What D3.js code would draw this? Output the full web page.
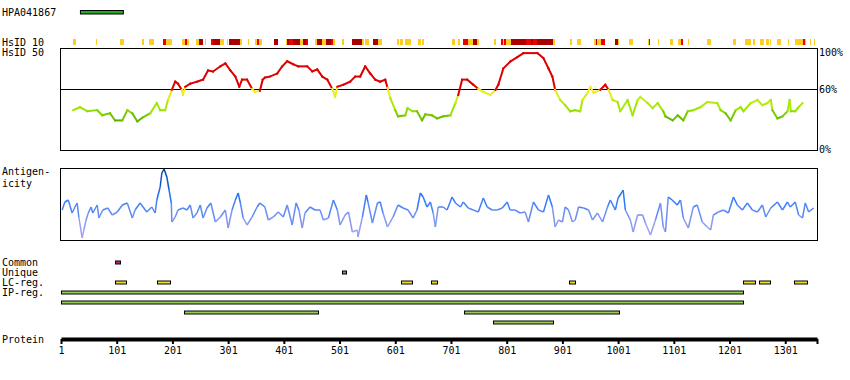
<!DOCTYPE html>
<html>
<head>
<meta charset="utf-8">
<script src="https://cdn.jsdelivr.net/npm/d3@7"></script>
<style>
  body { margin: 0; background: #fff; }
  svg text { font-family: "DejaVu Sans Mono", monospace; font-size: 10px; fill: #000; }
</style>
</head>
<body>
<div id="chart"></div>
<script>
// protein + antibody
var proteinLength = 1358;
var antibodyName = "HPA041867";
var antibodyRange = [35, 112];
var tickResidues = [1, 101, 201, 301, 401, 501, 601, 701, 801, 901, 1001, 1101, 1201, 1301];

// HsID 10 blocks: [start, end, level] level 1 = low, 2 = mid, 3 = high
var hsid10Blocks = [
  [22,28,1],[63,66,1],[107,114,1],[146,150,1],[159,168,1],[184,190,2],[190,200,1],[218,224,1],
  [224,227,2],[227,231,1],[244,249,1],[249,256,3],[259,261,1],[270,274,2],[274,287,3],[287,294,1],
  [299,301,1],[303,323,3],[323,326,1],[337,339,1],[349,353,1],[353,357,2],[357,362,1],[384,391,3],
  [405,407,1],[407,411,3],[411,418,2],[418,430,3],[430,436,1],[436,441,3],[441,445,2],[457,461,1],
  [461,470,3],[470,477,1],[477,486,3],[486,490,2],[490,493,1],[506,509,1],[524,542,3],[542,544,1],
  [547,553,1],[561,570,3],[570,578,1],[605,608,1],[610,614,1],[619,623,1],[624,630,1],[642,648,1],
  [649,653,1],[702,709,1],[714,718,1],[723,732,2],[732,741,1],[741,748,3],[748,752,1],[779,781,1],
  [790,795,2],[795,797,1],[797,800,2],[800,809,1],[809,835,3],[835,844,2],[844,849,3],[849,856,2],
  [856,885,3],[885,887,1],[915,919,1],[928,935,1],[958,962,1],[962,964,3],[964,971,1],[971,978,2],
  [996,1000,3],[1000,1003,1],[1021,1027,1],[1054,1056,1],[1056,1059,2],[1073,1075,1],[1095,1099,1],
  [1108,1113,1],[1113,1117,2],[1126,1128,1],[1161,1167,1],[1208,1213,1],[1228,1240,1],[1244,1247,1],
  [1256,1262,1],[1267,1271,1],[1273,1276,1],[1287,1294,1],[1306,1308,1],[1318,1332,1],[1332,1336,2],
  [1336,1339,1],[1345,1347,1],[1352,1354,1]
];

// HsID 50 identity (%) : [residue, value]
var hsid50 = [
  [23,39],[35,42],[48,38],[66,39],[75,34],[89,36],[98,29],[111,29],[120,39],[129,36],[138,28],[148,32],
  [161,36],[173,46],[179,39],[188,39],[193,49],[200,59],[206,67],[211,65],[218,59],[220,54],[224,62],
  [233,65],[245,67],[256,69],[265,78],[274,77],[287,82],[296,85],[305,78],[314,72],[321,62],[326,69],
  [335,69],[344,60],[349,57],[358,58],[363,69],[367,71],[376,72],[389,75],[398,82],[407,87],[418,84],
  [427,82],[443,82],[452,77],[461,79],[470,72],[479,69],[488,60],[493,52],[497,62],[508,64],[520,67],
  [529,72],[538,72],[547,82],[556,75],[565,69],[574,67],[583,69],[587,61],[592,51],[601,39],[606,33],
  [619,34],[623,41],[632,38],[640,38],[649,29],[655,35],[667,34],[676,31],[687,33],[700,34],[709,46],
  [714,54],[721,69],[730,69],[741,64],[750,60],[759,57],[772,54],[781,59],[786,64],[795,80],[808,87],
  [820,91],[831,95],[856,95],[867,90],[876,80],[883,72],[888,59],[897,49],[906,44],[915,38],[924,39],
  [933,38],[937,49],[946,56],[951,62],[957,56],[969,59],[978,64],[984,59],[991,49],[1000,47],[1005,38],
  [1018,49],[1027,34],[1036,49],[1041,52],[1054,46],[1063,41],[1072,46],[1082,38],[1086,33],[1099,29],
  [1108,34],[1118,29],[1126,38],[1136,39],[1149,42],[1161,47],[1179,46],[1185,39],[1194,36],[1203,29],
  [1212,39],[1221,42],[1226,38],[1239,46],[1251,49],[1260,44],[1269,46],[1275,49],[1278,39],[1287,31],
  [1296,33],[1305,38],[1309,49],[1311,38],[1319,38],[1325,42],[1332,46]
];

// antigenicity score (arbitrary units, 0..72) : [residue, value]
var antigenicity = [
  [3,30],[8,38],[14,40],[21,27],[26,33],[30,37],[33,23],[39,2],[42,10],[46,20],[50,27],[55,33],[58,27],
  [66,35],[69,22],[76,30],[85,32],[93,25],[102,28],[111,35],[120,37],[129,22],[134,30],[143,37],[155,28],
  [164,33],[170,27],[173,40],[179,53],[182,67],[186,71],[191,63],[195,50],[199,37],[200,18],[206,23],
  [211,30],[220,32],[227,30],[233,35],[238,22],[245,27],[251,35],[256,22],[263,32],[270,37],[278,18],
  [287,23],[296,30],[301,12],[308,30],[314,40],[319,47],[323,37],[328,22],[335,15],[344,23],[353,33],
  [358,37],[367,33],[373,20],[382,23],[391,28],[400,23],[407,35],[416,15],[423,37],[428,30],[434,12],
  [439,27],[448,33],[457,30],[466,30],[472,20],[481,22],[490,40],[497,30],[502,15],[511,25],[517,28],
  [524,8],[533,10],[534,3],[542,23],[549,45],[552,38],[560,17],[569,37],[574,38],[579,27],[587,13],
  [592,18],[597,23],[606,35],[615,32],[624,30],[633,22],[640,30],[646,47],[651,43],[658,33],[664,38],
  [669,27],[673,13],[678,33],[687,33],[694,30],[703,43],[709,37],[718,33],[723,38],[732,32],[741,30],
  [750,28],[759,42],[766,33],[775,30],[784,30],[793,32],[802,38],[807,30],[816,30],[825,27],[834,28],
  [840,18],[849,38],[858,30],[867,28],[876,45],[883,33],[888,13],[894,20],[901,18],[906,33],[912,30],
  [919,18],[924,20],[930,33],[939,32],[948,30],[955,20],[964,27],[973,18],[982,33],[987,40],[996,30],
  [1001,42],[1007,47],[1010,50],[1014,30],[1023,20],[1028,8],[1036,25],[1045,25],[1050,17],[1059,5],
  [1068,20],[1077,37],[1082,13],[1086,8],[1091,43],[1098,40],[1107,35],[1113,40],[1118,22],[1127,12],
  [1136,33],[1143,35],[1152,18],[1161,13],[1167,10],[1172,25],[1181,28],[1190,30],[1199,27],[1208,43],
  [1215,35],[1224,30],[1233,37],[1242,30],[1251,28],[1260,35],[1266,23],[1275,32],[1287,38],[1296,30],
  [1305,38],[1310,33],[1319,38],[1325,25],[1332,22],[1337,37],[1343,28],[1352,32]
];

// feature tracks
var commonRegions = [[98, 107]];
var uniqueRegions = [[506, 514]];
var lcRegions = [[98,117],[173,196],[612,631],[666,676],[913,924],[1225,1247],[1254,1274],[1317,1341]];
var ipRegions = [[1,1226],[1,1226],[221,461],[724,1002],[777,884]];

var width = 850, height = 380;
var svg = d3.select("#chart").append("svg")
  .attr("width", width)
  .attr("height", height);

var x = d3.scaleLinear().domain([1, proteinLength]).range([61, 817]);
var y50 = d3.scaleLinear().domain([0, 100]).range([150, 48]);
var yAnt = d3.scaleLinear().domain([0, 72]).range([240, 168]);

// labels on the left
var leftLabels = [
  [antibodyName, 16], ["HsID 10", 46], ["HsID 50", 56], ["Antigen-", 175], ["icity", 187],
  ["Common", 266], ["Unique", 276], ["LC-reg.", 286], ["IP-reg.", 296], ["Protein", 343]
];
svg.selectAll("text.left").data(leftLabels).enter().append("text")
  .attr("class", "left")
  .attr("x", 2)
  .attr("y", function (d) { return d[1]; })
  .text(function (d) { return d[0]; });

// antibody bar
svg.append("rect")
  .attr("x", x(antibodyRange[0]) + 0.5)
  .attr("y", 10.5)
  .attr("width", x(antibodyRange[1]) - x(antibodyRange[0]))
  .attr("height", 3.5)
  .attr("fill", "#22aa22")
  .attr("stroke", "#000")
  .attr("stroke-width", 1);

// HsID 10 strip
var hs10Color = { 1: "#ffcc22", 2: "#ee0000", 3: "#aa0000" };
svg.append("g").selectAll("rect").data(hsid10Blocks).enter().append("rect")
  .attr("x", function (d) { return x(d[0]); })
  .attr("y", 39)
  .attr("width", function (d) { return Math.max(1, x(d[1]) - x(d[0])); })
  .attr("height", 6)
  .attr("fill", function (d) { return hs10Color[d[2]]; })
  .attr("shape-rendering", "crispEdges");

// HsID 50 box
var boxL = 60.5, boxR = 817.5;
svg.append("rect")
  .attr("x", boxL).attr("y", y50(100) + 0.5)
  .attr("width", boxR - boxL).attr("height", y50(0) - y50(100))
  .attr("fill", "none").attr("stroke", "#000").attr("stroke-width", 1);
svg.append("line")
  .attr("x1", boxL).attr("x2", boxR)
  .attr("y1", Math.round(y50(60)) + 0.5).attr("y2", Math.round(y50(60)) + 0.5)
  .attr("stroke", "#000").attr("stroke-width", 1);

var pctTicks = [100, 60, 0];
svg.selectAll("text.pct").data(pctTicks).enter().append("text")
  .attr("class", "pct")
  .attr("x", 819)
  .attr("y", function (d) { return y50(d) + (d === 100 ? 8 : d === 0 ? 3 : 4); })
  .text(function (d) { return d + "%"; });

var greens = d3.scaleLinear().domain([28, 40, 50, 58])
  .range(["#55aa00", "#99e600", "#c8ee10", "#f2ee22"]).clamp(true);
function idColor(v) { return v >= 60 ? "#dd0000" : greens(v); }

var segs50 = d3.pairs(hsid50);
svg.append("g").selectAll("line").data(segs50).enter().append("line")
  .attr("x1", function (d) { return x(d[0][0]); })
  .attr("y1", function (d) { return y50(d[0][1]); })
  .attr("x2", function (d) { return x(d[1][0]); })
  .attr("y2", function (d) { return y50(d[1][1]); })
  .attr("stroke", function (d) { return idColor((d[0][1] + d[1][1]) / 2); })
  .attr("stroke-width", 2)
  .attr("stroke-linecap", "square");

// antigenicity box + line
svg.append("rect")
  .attr("x", boxL).attr("y", yAnt(72) + 0.5)
  .attr("width", boxR - boxL).attr("height", yAnt(0) - yAnt(72))
  .attr("fill", "none").attr("stroke", "#000").attr("stroke-width", 1);

var antColor = d3.scaleLinear().domain([0, 22, 40, 72])
  .range(["#bba8ff", "#7f95f0", "#2a78ff", "#0040a0"]).clamp(true);
var segsAnt = d3.pairs(antigenicity);
svg.append("g").selectAll("line").data(segsAnt).enter().append("line")
  .attr("x1", function (d) { return x(d[0][0]); })
  .attr("y1", function (d) { return yAnt(d[0][1]); })
  .attr("x2", function (d) { return x(d[1][0]); })
  .attr("y2", function (d) { return yAnt(d[1][1]); })
  .attr("stroke", function (d) { return antColor((d[0][1] + d[1][1]) / 2); })
  .attr("stroke-width", 1.5);

// feature tracks
function drawTrack(regions, yc, fill) {
  svg.append("g").selectAll("rect").data(regions).enter().append("rect")
    .attr("x", function (d) { return Math.round(x(d[0])) + 0.5; })
    .attr("y", yc - 1.5)
    .attr("width", function (d) { return Math.max(2, Math.round(x(d[1]) - x(d[0]))); })
    .attr("height", 3)
    .attr("fill", fill)
    .attr("stroke", "#000")
    .attr("stroke-width", 1);
}
drawTrack(commonRegions, 262.5, "#cc2288");
drawTrack(uniqueRegions, 272.5, "#888888");
drawTrack(lcRegions, 282.5, "#eedd22");

// pack IP regions into rows
var rowEnds = [];
var ipPlaced = ipRegions.map(function (r) {
  var row = 0;
  while (row < rowEnds.length && rowEnds[row] >= r[0]) row++;
  rowEnds[row] = r[1];
  return { s: r[0], e: r[1], row: row };
});
svg.append("g").selectAll("rect").data(ipPlaced).enter().append("rect")
  .attr("x", function (d) { return Math.round(x(d.s)) + 0.5; })
  .attr("y", function (d) { return 292.5 + d.row * 10 - 1.5; })
  .attr("width", function (d) { return Math.round(x(d.e) - x(d.s)); })
  .attr("height", 3)
  .attr("fill", "#99cc55")
  .attr("stroke", "#000")
  .attr("stroke-width", 1);

// protein axis
var axis = d3.axisBottom(x)
  .tickValues(tickResidues.concat([proteinLength]))
  .tickFormat(function (d) { return d === proteinLength ? "" : d; })
  .tickSize(5)
  .tickSizeOuter(0)
  .tickPadding(3);
var gAxis = svg.append("g")
  .attr("transform", "translate(0,339)")
  .call(axis);
gAxis.select(".domain").attr("stroke", "#000").attr("stroke-width", 4);
gAxis.selectAll(".tick line").attr("stroke", "#000").attr("stroke-width", 2);
gAxis.selectAll(".tick text")
  .attr("fill", "#000")
  .style("font-family", "'DejaVu Sans Mono', monospace")
  .style("font-size", "10px");
</script>
</body>
</html>
